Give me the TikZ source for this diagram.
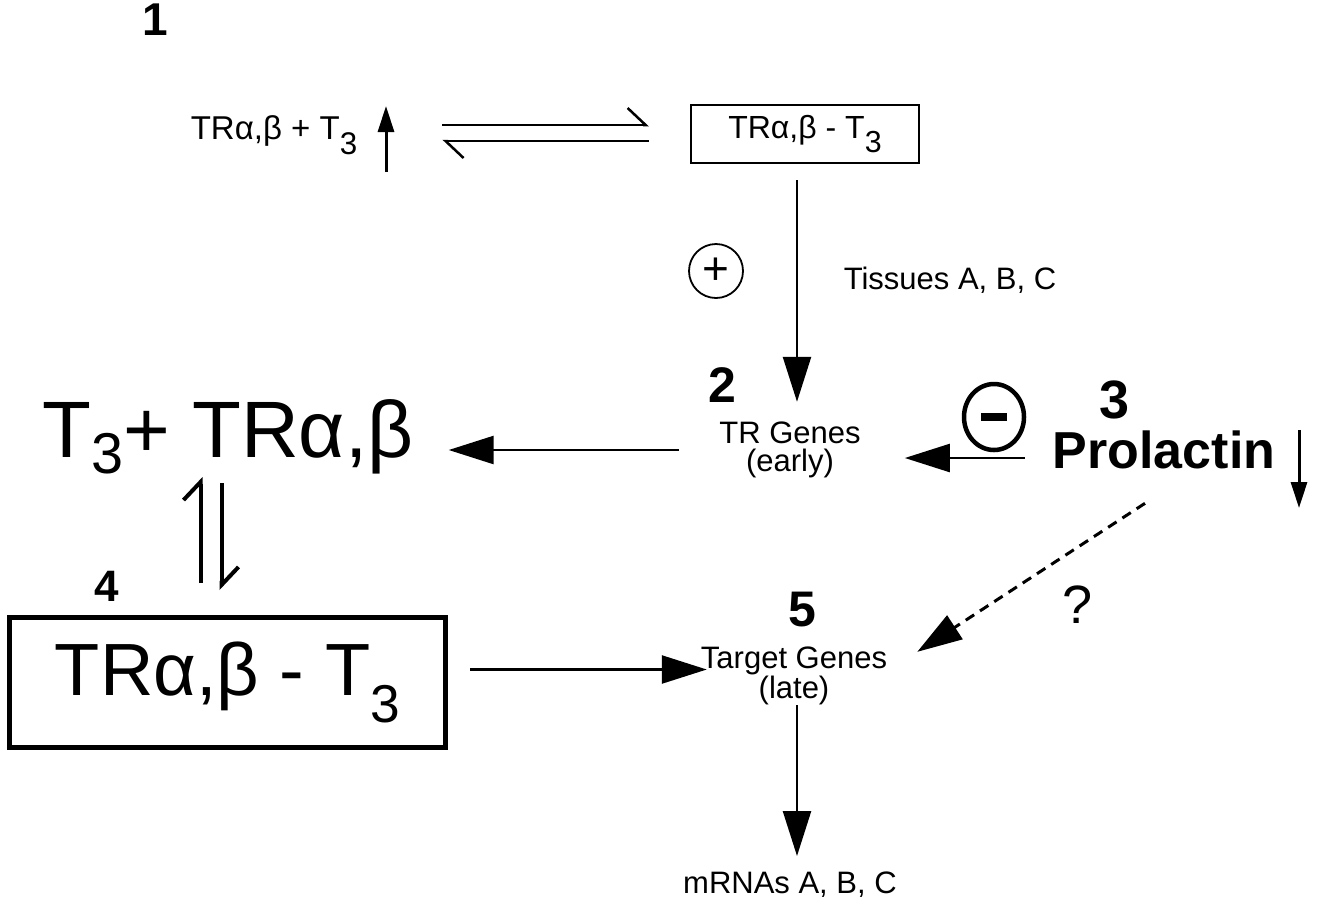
\documentclass[tikz,border=0pt]{standalone}
\usepackage{fontspec}
\setmainfont{Liberation Sans}
\usetikzlibrary{arrows.meta,positioning,shapes.geometric}
\newcommand{\setsz}[2]{\fontsize{#1}{#2}\selectfont}
\newcommand{\lowsub}[3]{\raisebox{-#2em}{\scalebox{#1}{#3}}}

\begin{document}
\begin{tikzpicture}[x=1pt,y=-1pt,
    lbl/.style={font=\setsz{31}{28}, align=center, inner sep=0pt},
    num/.style={font=\setsz{#1}{#1}\bfseries, inner sep=0pt},
    bigarr/.style={-{Triangle[length=45pt,width=28pt]}, line width=2.5pt},
    thinarr/.style={-{Triangle[length=26pt,width=16pt]}, line width=3pt},
    harp/.style={-{Straight Barb[harpoon,length=18pt,width=34pt,line width=#1]}, line width=#1},
    harp/.default=2.5pt,
    sign/.style={draw, inner sep=0pt}
  ]
  \useasboundingbox (0,0) rectangle (1319,906);

  % step 1
  \node[num=46] (n1) at (155,20) {1};
  \node[lbl, font=\setsz{33}{33}] (free1) at (274,135) {TRα,β + T\lowsub{0.95}{0.45}{3}};
  \coordinate (upt) at (386,172);
  \draw[thinarr] (upt) -- ++(0,-66);
  \node[draw, line width=2.5pt, minimum width=228pt, minimum height=58pt,
    font=\setsz{32}{32}] (cplx1) at (805,134) {TRα,β - T\lowsub{0.95}{0.45}{3}};
  \path ([xshift=85pt]free1.east) coordinate (eqL);
  \draw[harp] ([yshift=9pt]eqL |- cplx1.west) -- ([xshift=-41pt,yshift=9pt]cplx1.west);
  \draw[harp] ([xshift=-41pt,yshift=-7pt]cplx1.west) -- ([yshift=-7pt]eqL |- cplx1.west);

  % step 2
  \node[sign, circle, minimum size=54pt, line width=1.8pt, font=\setsz{46}{46}] (plus) at (716,271) {+};
  \node[lbl] (tis) at (950,280) {Tissues A, B, C};
  \node[num=50] (n2) at (722,385) {2};
  \node[lbl] (trg) at (790,450) {TR Genes\\(early)};
  \draw[bigarr] ([xshift=-8pt,yshift=-16pt]cplx1.south) -- ([xshift=7pt,yshift=20pt]trg.north);

  \node[font=\setsz{80}{80}, inner sep=0pt, anchor=base] (free2) at (228,457) {T\lowsub{0.72}{0.2}{3}+ TRα,β};
  \draw[bigarr, shorten <=40pt, shorten >=35pt] (trg.west) -- (trg.west -| free2.east);

  % step 3
  \node[sign, ellipse, minimum width=60pt, minimum height=66pt, line width=4.5pt] (minus) at (994,417) {\rule{26pt}{8pt}};
  \node[num=54] (n3) at (1115,400) {3};
  \node[font=\setsz{52}{52}\bfseries, inner sep=0pt] (prl) at (1164,450) {Prolactin};
  \coordinate (dnt) at (1299,430);
  \draw[thinarr] (dnt) -- ++(0,78);
  \draw[bigarr, shorten <=28pt, shorten >=44pt] ([yshift=-8pt]prl.west) -- ([yshift=-8pt]prl.west -| trg.east);

  % step 4
  \node[num=44] (n4) at (107,586) {4};
  \node[draw, line width=5pt, minimum width=436pt, minimum height=130pt,
    font=\setsz{74}{74}] (cplx2) at (227.5,682.5) {TRα,β - T\lowsub{0.72}{0.36}{3}};
  \draw[harp=4pt] ([xshift=-27pt,yshift=32pt]cplx2.north) -- ([xshift=-27pt,yshift=138pt]cplx2.north);
  \draw[harp=4pt] ([xshift=-6pt,yshift=132pt]cplx2.north) -- ([xshift=-6pt,yshift=25pt]cplx2.north);

  % step 5
  \node[num=50] (n5) at (802,610) {5};
  \node[lbl] (tgt) at (794,676) {Target Genes\\(late)};
  \draw[bigarr, shorten >=16pt] ([xshift=22pt,yshift=13pt]cplx2.east) -- ([xshift=22pt,yshift=13pt]cplx2.east -| tgt.west);
  \draw[bigarr, line width=3pt, dash pattern=on 10pt off 7pt] ([xshift=-19pt,yshift=-34pt]prl.south) -- ([xshift=30pt,yshift=-5pt]tgt.north east);
  \node[font=\setsz{54}{54}, inner sep=0pt] (qm) at (1078,605) {?};
  \node[lbl] (mrna) at (790,885) {mRNAs A, B, C};
  \draw[bigarr, shorten >=16pt] ([xshift=3pt]tgt.south) -- ([xshift=3pt]tgt.south |- mrna.north);
\end{tikzpicture}
\end{document}
